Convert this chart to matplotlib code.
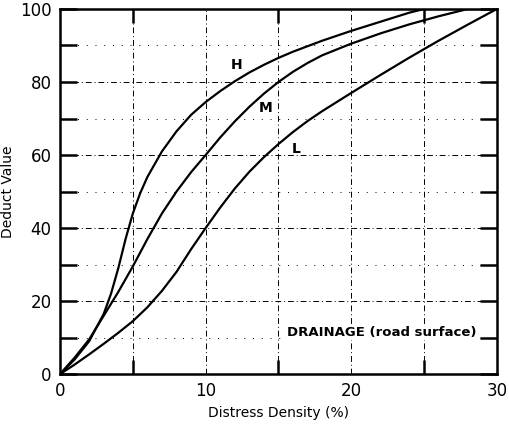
import matplotlib
matplotlib.use('Agg')
import matplotlib.pyplot as plt
from matplotlib.ticker import MultipleLocator

# curve readings (distress density %, deduct value)
h_x = [0, 1, 2, 3, 3.5, 4, 4.5, 5, 5.5, 6, 7, 8, 9, 10, 11, 12, 13, 14, 15, 16, 18, 20, 22, 24, 25, 30]
h_y = [0, 4, 9, 16.5, 22, 29, 37, 44, 49.5, 54, 61, 66.5, 71, 74.5, 77.5, 80.2, 82.6, 84.7, 86.6, 88.3, 91.3, 94, 96.5, 99, 100, 100]

m_x = [0, 1, 2, 3, 4, 5, 6, 7, 8, 9, 10, 11, 12, 13, 14, 15, 16, 17, 18, 20, 22, 24, 26, 28, 30]
m_y = [0, 4.5, 9.5, 16, 22.5, 29.5, 37, 44, 50, 55.3, 60, 64.8, 69.2, 73.2, 76.8, 80, 82.8, 85.2, 87.3, 90.5, 93.3, 95.8, 98, 100, 100]

l_x = [0, 1, 2, 3, 4, 5, 6, 7, 8, 9, 10, 11, 12, 13, 14, 15, 16, 17, 18, 20, 22, 24, 26, 28, 30]
l_y = [0, 2.6, 5.4, 8.3, 11.3, 14.5, 18.3, 22.8, 28, 34.2, 40, 45.6, 50.8, 55.4, 59.4, 63, 66.3, 69.3, 72, 77, 81.9, 86.7, 91.3, 95.7, 100]

x_ticks = [0, 10, 20, 30]
y_ticks = [0, 20, 40, 60, 80, 100]

fig = plt.figure(figsize=(5.09, 4.28), dpi=100)
ax = fig.add_axes([0.118, 0.126, 0.858, 0.853])

ax.plot(h_x, h_y, color='black', lw=1.6)
ax.plot(m_x, m_y, color='black', lw=1.6)
ax.plot(l_x, l_y, color='black', lw=1.6)

ax.set_xlim(0, 30)
ax.set_ylim(0, 100)
ax.set_xticks(x_ticks)
ax.set_yticks(y_ticks)
ax.xaxis.set_minor_locator(MultipleLocator(5))
ax.yaxis.set_minor_locator(MultipleLocator(10))

# grid
for gx in [5, 10, 15, 20, 25]:
    ax.axvline(gx, color='black', lw=0.7, ls=(0, (6, 3, 1, 3)), zorder=0)
for gy in [20, 40, 60, 80]:
    ax.axhline(gy, color='black', lw=0.7, ls=(0, (6, 3, 1, 3)), zorder=0)
for gy in [10, 30, 50, 70, 90]:
    ax.axhline(gy, color='black', lw=0.7, ls=(0, (1, 8)), zorder=0)

ax.tick_params(which='both', direction='in', top=True, right=True, width=1.8,
               length=12, labelsize=12, pad=6)
ax.tick_params(axis='x', which='major', length=0, pad=6)
ax.tick_params(axis='x', which='minor', length=10)
for s in ax.spines.values():
    s.set_linewidth(1.8)

ax.text(12.15, 84.7, 'H', fontsize=10, fontweight='bold', ha='center', va='center')
ax.text(14.1, 72.9, 'M', fontsize=10, fontweight='bold', ha='center', va='center')
ax.text(16.2, 61.6, 'L', fontsize=10, fontweight='bold', ha='center', va='center')
ax.text(22.1, 11.5, 'DRAINAGE (road surface)', fontsize=9.5, fontweight='bold',
        ha='center', va='center',
        bbox=dict(facecolor='white', edgecolor='none', pad=1))

ax.set_xlabel('Distress Density (%)', fontsize=10, labelpad=4)
ax.set_ylabel('Deduct Value', fontsize=10, labelpad=4)

fig.savefig('out.png', dpi=100)
